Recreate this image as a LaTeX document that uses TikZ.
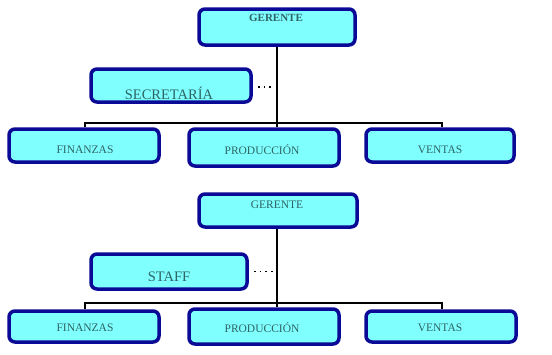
\documentclass[tikz,border=0pt]{standalone}
\usepackage{fontspec}
\setmainfont{Liberation Serif}
\definecolor{boxfill}{RGB}{128,255,255}
\definecolor{boxline}{RGB}{10,10,150}
\definecolor{txtcol}{RGB}{45,100,100}
\begin{document}
\begin{tikzpicture}[x=1pt,y=-1pt,
  box/.style={draw=boxline,fill=boxfill,line width=3.5pt,rounded corners=6pt,inner sep=0pt},
  txt/.style={text=txtcol,font=\fontsize{11.5}{13}\selectfont,inner sep=0pt},
  bigtxt/.style={txt,font=\fontsize{14.5}{16}\selectfont},
  conn/.style={draw=black,line width=1.6pt},
  dots/.style={draw=black,line width=1.8pt,dash pattern=on 1.8pt off 4pt}]
\useasboundingbox (0,0) rectangle (552,354);
\fill[white] (0,0) rectangle (552,354);
% ---------- top chart ----------
\node[box,minimum width=156pt,minimum height=36pt] (g1) at (277,27) {};
\node[box,minimum width=160pt,minimum height=33pt] (s1) at (171,85.5) {};
\node[box,minimum width=150pt,minimum height=33pt] (f1) at (84,145.5) {};
\node[box,minimum width=150pt,minimum height=37pt] (p1) at (264,147.5) {};
\node[box,minimum width=148pt,minimum height=33pt] (v1) at (440,145.5) {};
\node[txt,font=\fontsize{11}{13}\selectfont\bfseries] (tg1) at (276,18) {GERENTE};
\node[bigtxt] (ts1) at (169,93) {SECRETARÍA};
\node[txt] (tf1) at (85,150) {FINANZAS};
\node[txt] (tp1) at (262,150) {PRODUCCIÓN};
\node[txt] (tv1) at (440,150) {VENTAS};
\coordinate (j1) at (277,123);
\coordinate (l1) at (85,123);
\coordinate (r1) at (442,123);
\draw[conn] (g1.south -| j1) -- (j1 |- p1.north);
\draw[conn] (l1 |- f1.north) -- (l1) -- (r1) -- (r1 |- v1.north);
\draw[dots] ([xshift=5pt,yshift=-1.5pt]s1.east) -- ([xshift=-3pt,yshift=-1.5pt]s1.east -| j1);
% ---------- bottom chart ----------
\node[box,minimum width=158pt,minimum height=33pt] (g2) at (278,210.5) {};
\node[box,minimum width=156pt,minimum height=35pt] (s2) at (169,271.5) {};
\node[box,minimum width=150pt,minimum height=31pt] (f2) at (84,326.5) {};
\node[box,minimum width=150pt,minimum height=35pt] (p2) at (264,326.5) {};
\node[box,minimum width=150pt,minimum height=31pt] (v2) at (441,326.5) {};
\node[txt] (tg2) at (277,205) {GERENTE};
\node[bigtxt] (ts2) at (169,277) {STAFF};
\node[txt] (tf2) at (85,328) {FINANZAS};
\node[txt] (tp2) at (262,328) {PRODUCCIÓN};
\node[txt] (tv2) at (440,328) {VENTAS};
\coordinate (j2) at (277,303);
\coordinate (l2) at (85,303);
\coordinate (r2) at (442,303);
\draw[conn] (g2.south -| j2) -- (j2 |- p2.north);
\draw[conn] (l2 |- f2.north) -- (l2) -- (r2) -- (r2 |- v2.north);
\draw[dots] ([xshift=5pt]s2.east) -- ([xshift=-3pt]s2.east -| j2);
\end{tikzpicture}
\end{document}
